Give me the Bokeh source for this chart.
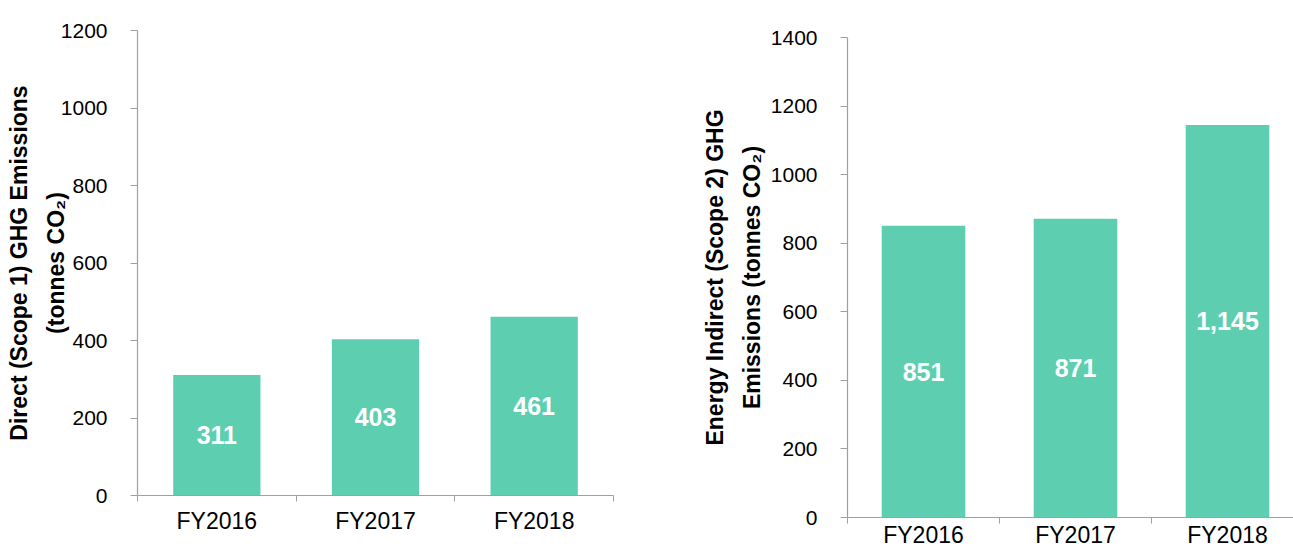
from bokeh.plotting import figure
from bokeh.models import Range1d, FixedTicker, SingleIntervalTicker, ColumnDataSource
from bokeh.core.properties import value
from bokeh.embed import file_html
from bokeh.resources import INLINE

categories = ["FY2016", "FY2017", "FY2018"]
scope1 = [311, 403, 461]
scope2 = [851, 871, 1145]
ylabel1 = "Direct (Scope 1) GHG Emissions\n(tonnes CO\u2082)"
ylabel2 = "Energy Indirect (Scope 2) GHG\nEmissions (tonnes CO\u2082)"

BAR = "#5DCFB0"
AXIS = "#A0A0A0"
FONT = "Liberation Sans"


def make_chart(vals, ymax, ylabel, width, height, border_left, border_right,
               border_top, border_bottom, x_end, xlab_standoff, ylab_standoff):
    n = len(categories)
    xs = [i + 0.5 for i in range(n)]
    src = ColumnDataSource(dict(
        x=xs, top=vals, mid=[v / 2 for v in vals],
        lab=[f"{v:,}" for v in vals]))
    p = figure(width=width, height=height,
               x_range=Range1d(0, x_end), y_range=Range1d(0, ymax),
               output_backend="svg", toolbar_location=None,
               min_border_left=border_left, min_border_right=border_right,
               min_border_top=border_top, min_border_bottom=border_bottom)
    p.outline_line_color = None
    p.xgrid.visible = False
    p.ygrid.visible = False
    p.background_fill_color = "white"
    p.border_fill_color = "white"

    p.vbar(x="x", top="top", width=0.55, bottom=0, source=src,
           fill_color=BAR, line_color=None)
    p.text(x="x", y="mid", text="lab", source=src, text_align="center",
           text_baseline="middle", text_color="white",
           text_font=value(FONT), text_font_style="bold",
           text_font_size="25px")

    xa = p.xaxis[0]
    xa.ticker = FixedTicker(ticks=xs, minor_ticks=list(range(n + 1)))
    xa.major_label_overrides = {x: c for x, c in zip(xs, categories)}
    xa.major_tick_out = 0
    xa.major_tick_in = 0
    xa.minor_tick_out = 6
    xa.minor_tick_in = 0
    xa.minor_tick_line_color = AXIS
    xa.axis_line_color = AXIS
    xa.axis_line_width = 1.2
    xa.major_label_text_font = FONT
    xa.major_label_text_font_size = "23px"
    xa.major_label_text_color = "black"
    xa.major_label_standoff = xlab_standoff

    ya = p.yaxis[0]
    ya.ticker = SingleIntervalTicker(interval=200, num_minor_ticks=0)
    ya.major_tick_out = 7
    ya.major_tick_in = 0
    ya.minor_tick_out = 0
    ya.minor_tick_in = 0
    ya.major_tick_line_color = AXIS
    ya.axis_line_color = AXIS
    ya.axis_line_width = 1.2
    ya.major_label_text_font = FONT
    ya.major_label_text_font_size = "21px"
    ya.major_label_text_color = "black"
    ya.major_label_standoff = 23
    ya.axis_label = ylabel
    ya.axis_label_text_font = FONT
    ya.axis_label_text_font_size = "23px"
    ya.axis_label_text_font_style = "bold"
    ya.axis_label_text_color = "black"
    ya.axis_label_text_line_height = 1.4
    ya.axis_label_standoff = ylab_standoff
    return p


# left: frame x 137..613, y 30..495 ; right: frame x 847..1293, y 37..517
p1 = make_chart(scope1, 1200, ylabel1, 633, 551, 137, 20, 30, 56, 3, 6, -11)
p2 = make_chart(scope2, 1400, ylabel2, 660, 551, 214, 0, 37, 34, 446 / 152, -2, 3)

TEMPLATE = """
{% block contents %}
{% from macros import embed %}
<div style="display:flex;flex-direction:row;align-items:flex-start;">
{% for doc in docs %}{% for root in doc.roots %}{{ embed(root) }}{% endfor %}{% endfor %}
</div>
{% endblock %}
"""

open("out.html", "w").write(file_html([p1, p2], INLINE, template=TEMPLATE))
